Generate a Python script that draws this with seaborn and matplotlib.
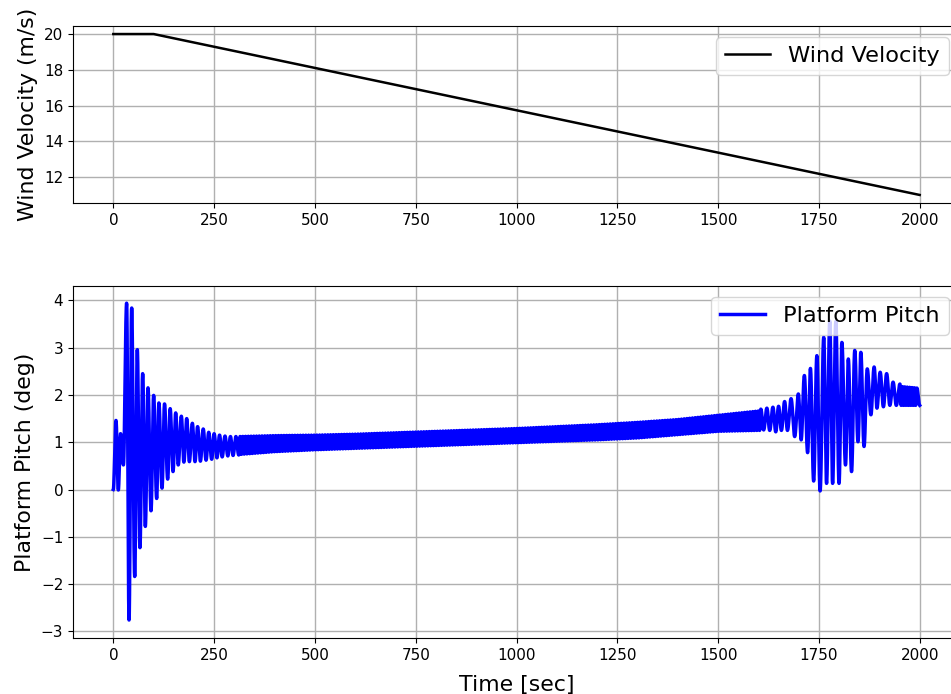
import numpy as np
import pandas as pd
import matplotlib
matplotlib.use("Agg")
import matplotlib.pyplot as plt
import seaborn as sns

# ---- wind input: held at 20 m/s, then ramped down ----
wind_time = [0, 100, 2000]
wind_speed = [20.0, 20.0, 11.0]

# ---- platform pitch: start-up transient, successive extrema (s, deg) ----
start_time = [0, 6.6, 12.4, 18, 25, 33, 39, 45.5, 53, 59.5, 66, 72.8, 79.4, 86,
              93.5, 100, 107.5, 113, 120.8, 127, 134.8, 141, 148, 154.7, 161,
              168.7, 175, 182, 188.6, 196, 202.6, 209, 216, 223, 230, 236.6,
              244, 250, 257, 263.5, 270, 277, 284, 290.5, 297, 304, 311]
start_pitch = [0.0, 1.46, -0.01, 1.18, 0.52, 3.94, -2.76, 3.84, -1.84, 2.96,
               -1.23, 2.45, -0.78, 2.15, -0.45, 1.99, -0.19, 1.83, 0.03, 1.81,
               0.22, 1.71, 0.38, 1.62, 0.52, 1.55, 0.58, 1.50, 0.59, 1.40, 0.59,
               1.33, 0.60, 1.28, 0.62, 1.21, 0.64, 1.18, 0.67, 1.15, 0.69, 1.13,
               0.71, 1.12, 0.72, 1.12, 0.73]

# ---- quasi-steady oscillation: upper / lower envelope (deg) ----
band_time = [311, 400, 500, 600, 700, 800, 900, 1000, 1100, 1200, 1300,
             1400, 1500, 1600]
band_upper = [1.12, 1.14, 1.15, 1.17, 1.20, 1.23, 1.26, 1.29, 1.33, 1.37,
              1.42, 1.48, 1.57, 1.66]
band_lower = [0.74, 0.80, 0.84, 0.87, 0.90, 0.93, 0.96, 0.99, 1.02, 1.05,
              1.09, 1.16, 1.23, 1.25]
band_half_period = 3.4

# ---- resonance burst near the end of the ramp: successive extrema ----
burst_time = [1606, 1613, 1621, 1628, 1636, 1643, 1650, 1657, 1665, 1672, 1681,
              1690, 1699, 1706, 1714, 1722, 1729, 1737, 1745, 1753, 1762, 1769,
              1777, 1784, 1792, 1800, 1807, 1816, 1823, 1831, 1839, 1847, 1854,
              1862, 1870, 1879, 1887, 1894, 1902, 1910, 1918, 1926, 1934, 1942,
              1951]
burst_pitch = [1.70, 1.26, 1.72, 1.25, 1.74, 1.22, 1.76, 1.25, 1.86, 1.25, 1.92,
               1.12, 2.02, 1.05, 2.41, 0.78, 2.56, 0.18, 2.83, -0.03, 3.22, 0.13,
               3.56, 0.13, 3.55, 0.13, 3.11, 0.52, 2.76, 0.38, 2.94, 1.01, 2.90,
               0.91, 2.55, 1.58, 2.59, 1.72, 2.48, 1.75, 2.45, 1.78, 2.27, 1.78,
               2.23]

# ---- settled tail ----
tail_time = [1951, 2000]
tail_upper = [2.18, 2.14]
tail_lower = [1.78, 1.78]
tail_half_period = 3.0


def band_extrema(t0, t1, half_period, times, upper, lower):
    """Alternating peak/trough values taken from an envelope."""
    tk = np.arange(t0 + half_period, t1, half_period)
    hi = np.interp(tk, times, upper)
    lo = np.interp(tk, times, lower)
    vals = np.where(np.arange(len(tk)) % 2 == 0, hi, lo)
    if len(tk) % 2 == 1:          # finish on the opposite extreme
        tk, vals = tk[:-1], vals[:-1]
    return list(tk), list(vals)


def through_extrema(tx, vx, step=0.2):
    """Smooth half-cosine passage between consecutive extrema."""
    tx = np.asarray(tx, float)
    vx = np.asarray(vx, float)
    t = np.arange(tx[0], tx[-1] + step / 2, step)
    i = np.clip(np.searchsorted(tx, t, side="right") - 1, 0, len(tx) - 2)
    s = (t - tx[i]) / (tx[i + 1] - tx[i])
    v = vx[i] + (vx[i + 1] - vx[i]) * (1 - np.cos(np.pi * s)) / 2
    return t, v


# the start list ends on a trough, so the band begins with a peak
bt, bv = band_extrema(start_time[-1], burst_time[0] - 2, band_half_period,
                      band_time, band_upper, band_lower)
# the burst ends on a peak, so the tail begins with a trough
tt, tv = band_extrema(burst_time[-1], 1999, tail_half_period,
                      tail_time, tail_lower, tail_upper)
ext_t = start_time + bt + burst_time + tt + [2000]
ext_v = start_pitch + bv + burst_pitch + tv + [1.78]
pitch_t, pitch_v = through_extrema(ext_t, ext_v)

wind_df = pd.DataFrame({"Time": wind_time, "Wind": wind_speed})
pitch_df = pd.DataFrame({"Time": pitch_t, "Pitch": pitch_v})

W, H = 951, 694
fig = plt.figure(figsize=(W / 100, H / 100), dpi=100)
ax1 = fig.add_axes([73 / W, 1 - 203 / H, (960 - 73) / W, (203 - 26) / H])
ax2 = fig.add_axes([73 / W, 1 - 638 / H, (960 - 73) / W, (638 - 285.7) / H])

sns.lineplot(data=wind_df, x="Time", y="Wind", ax=ax1, color="black",
             linewidth=1.8, estimator=None, sort=False, label="Wind Velocity")
sns.lineplot(data=pitch_df, x="Time", y="Pitch", ax=ax2, color="blue",
             linewidth=2.5, estimator=None, sort=False, label="Platform Pitch")

xticks = np.arange(0, 2001, 250)
for ax in (ax1, ax2):
    ax.set_xlim(-100, 2100)
    ax.set_xticks(xticks)
    ax.grid(True, color="#b0b0b0", linewidth=1.0)
    ax.set_axisbelow(True)
    ax.tick_params(labelsize=11)
    ax.legend(loc="upper right", fontsize=16.2)

ax1.set_ylim(10.55, 20.45)
ax2.set_ylim(-3.14, 4.31)
ax1.set_xlabel("")
ax1.set_ylabel("Wind Velocity (m/s)", fontsize=15.8)
ax2.set_ylabel("Platform Pitch (deg)", fontsize=15.8)
ax2.set_xlabel("Time [sec]", fontsize=15.8, labelpad=8.5)

fig.savefig("out.png", dpi=100)
